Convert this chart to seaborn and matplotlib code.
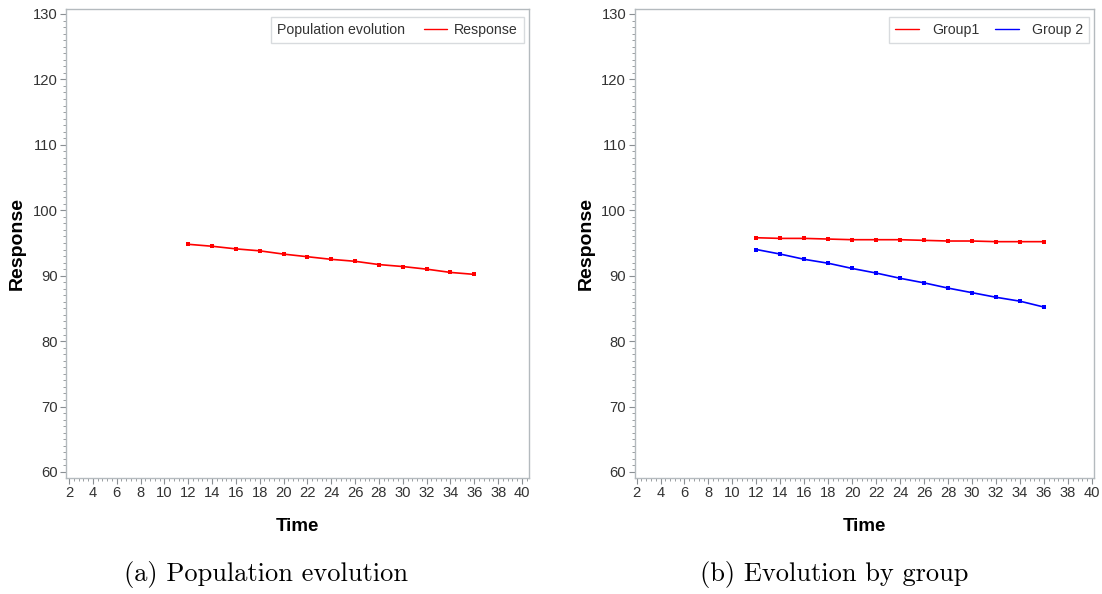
import numpy as np
import pandas as pd
import matplotlib
matplotlib.use("Agg")
import matplotlib.pyplot as plt
import seaborn as sns
from matplotlib.ticker import MultipleLocator
from matplotlib import font_manager

# ---- data ----
time = [12, 14, 16, 18, 20, 22, 24, 26, 28, 30, 32, 34, 36]
population = [94.8, 94.5, 94.1, 93.8, 93.3, 92.9, 92.5, 92.2, 91.7, 91.4, 91.0, 90.5, 90.2]
group1 = [95.8, 95.7, 95.7, 95.6, 95.5, 95.5, 95.5, 95.4, 95.3, 95.3, 95.2, 95.2, 95.2]
group2 = [94.0, 93.3, 92.5, 91.9, 91.1, 90.4, 89.6, 88.9, 88.1, 87.4, 86.7, 86.1, 85.2]
group_names = ["Group1", "Group 2"]
xticks = list(range(2, 41, 2))
yticks = list(range(60, 131, 10))
captions = ["(a) Population evolution", "(b) Evolution by group"]

df_pop = pd.DataFrame({"Time": time, "Response": population})
df_grp = pd.DataFrame({
    "Time": time + time,
    "Response": group1 + group2,
    "Group": [group_names[0]] * len(time) + [group_names[1]] * len(time),
})

sns.set_theme(style="white")
plt.rcParams["font.family"] = ["Liberation Sans", "DejaVu Sans"]

installed = {f.name for f in font_manager.fontManager.ttflist}
cap_family = ["cmr10"] if "cmr10" in installed else ["DejaVu Serif"]

W, H = 1102, 594
fig = plt.figure(figsize=(W / 100, H / 100), dpi=100)
ax1 = fig.add_axes([66 / W, 1 - 478 / H, (529 - 66) / W, (478 - 9) / H])
ax2 = fig.add_axes([634.5 / W, 1 - 478 / H, (1094.3 - 634.5) / W, (478 - 9) / H])

spine_c = "#b4babe"
tick_c = "#8a8f93"
text_c = "#333333"

sns.lineplot(data=df_pop, x="Time", y="Response", ax=ax1, color="red",
             marker="s", markersize=3.2, markeredgewidth=0, linewidth=1.2,
             label="Response")
sns.lineplot(data=df_grp, x="Time", y="Response", hue="Group", ax=ax2,
             palette={"Group1": "red", "Group 2": "blue"},
             marker="s", markersize=3.2, markeredgewidth=0, linewidth=1.2)

for ax, xl in ((ax1, (1.75, 40.59)), (ax2, (1.83, 40.19))):
    ax.set_xlim(*xl)
    ax.set_ylim(59.08, 130.76)
    ax.set_xticks(xticks)
    ax.set_yticks(yticks)
    ax.xaxis.set_minor_locator(MultipleLocator(0.4))
    ax.yaxis.set_minor_locator(MultipleLocator(1))
    ax.tick_params(axis="both", which="major", direction="out", length=4,
                   width=0.8, color=tick_c, labelcolor=text_c, labelsize=10.6, pad=2)
    ax.tick_params(axis="both", which="minor", direction="out", length=2.5,
                   width=0.6, color=tick_c)
    ax.tick_params(axis="x", which="both", bottom=True)
    ax.tick_params(axis="y", which="both", left=True)
    for s in ax.spines.values():
        s.set_color(spine_c)
        s.set_linewidth(1.0)
    ax.set_xlabel("Time", fontsize=13.5, fontweight="bold", color="black")
    ax.set_ylabel("Response", fontsize=14, fontweight="bold", color="black")
    ax.xaxis.set_label_coords(0.5, -0.085)
    ax.yaxis.set_label_coords(-0.086, 0.5)

# legend 1: title placed to the left of the entry
leg1 = ax1.legend(title="Population evolution", loc="upper right",
                  bbox_to_anchor=(0.996, 0.99), fontsize=10.2, title_fontsize=10.2,
                  frameon=True, fancybox=False, edgecolor="#cfd3d6",
                  handlelength=1.6, handletextpad=0.5, borderpad=0.45,
                  borderaxespad=0.2)
leg1.get_frame().set_linewidth(1.0)
c = leg1.get_children()[0]
title_box = c.get_children()[0]
hpack = c.get_children()[1]
c._children = [hpack]
hpack._children = [title_box] + hpack.get_children()
hpack.sep = 14
for line in leg1.get_lines():
    line.set_marker("")
    line.set_linewidth(1.0)

leg2 = ax2.legend(loc="upper right", bbox_to_anchor=(0.995, 0.99), ncol=2,
                  fontsize=10.2, frameon=True, fancybox=False, edgecolor="#cfd3d6",
                  handlelength=1.7, handletextpad=0.9, columnspacing=1.1,
                  borderpad=0.45, borderaxespad=0.2, title=None)
leg2.get_frame().set_linewidth(1.0)
for line in leg2.get_lines():
    line.set_marker("")
    line.set_linewidth(1.0)
for leg in (leg1, leg2):
    for t in leg.get_texts():
        t.set_color(text_c)
leg1.get_title().set_color(text_c)

fig.text(266 / W, 1 - 575 / H, captions[0], ha="center", va="center",
         fontsize=19, family=cap_family, color="black")
fig.text(834 / W, 1 - 575 / H, captions[1], ha="center", va="center",
         fontsize=19, family=cap_family, color="black")

fig.savefig("out.png", dpi=100)
